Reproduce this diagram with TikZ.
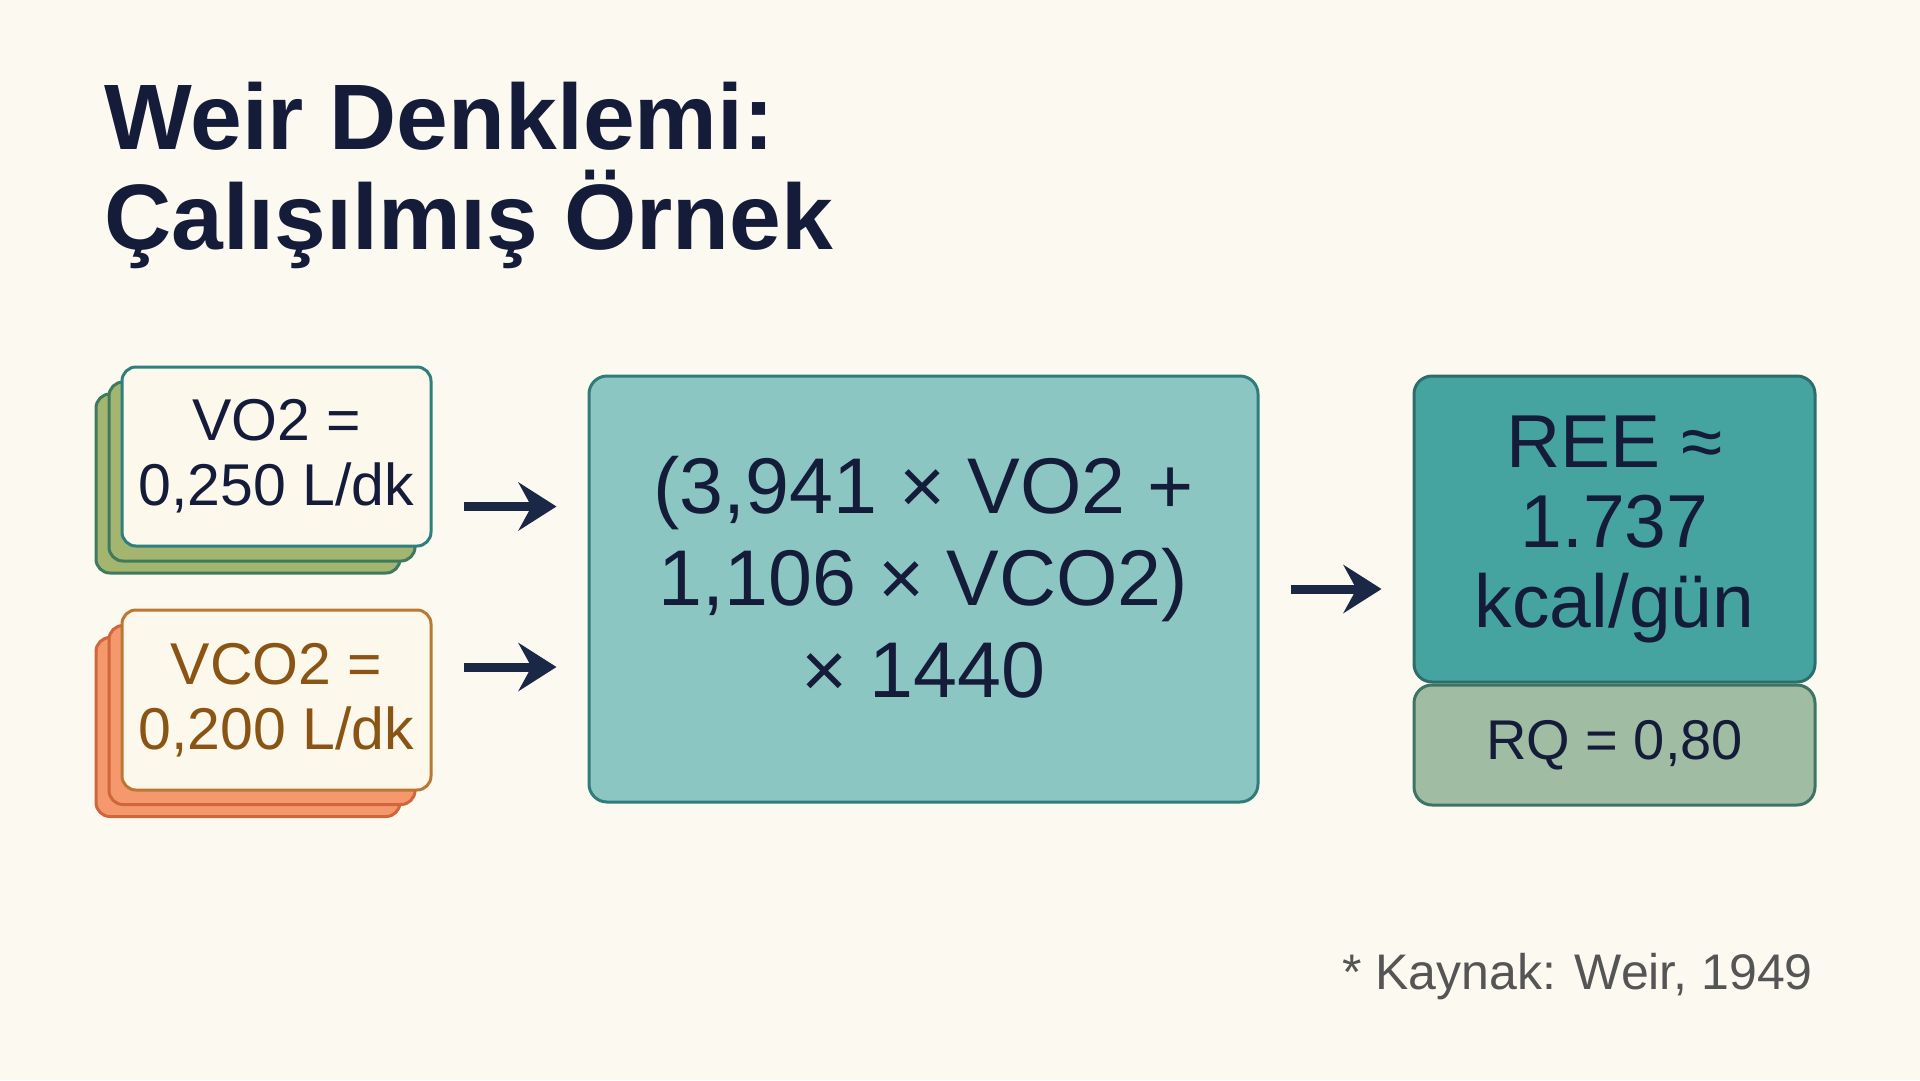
\documentclass[tikz,border=0pt]{standalone}
\usepackage{fontspec}
\setmainfont{Liberation Sans}
\usepackage{tikz}
\usetikzlibrary{positioning}
\usetikzlibrary{arrows.meta}

\definecolor{bgcream}{HTML}{FBF9F0}
\definecolor{navy}{HTML}{141C3A}
\definecolor{arrowblue}{HTML}{1B2845}
\definecolor{cardfill}{HTML}{FCF8EC}
\definecolor{greenfill}{HTML}{A3B56E}
\definecolor{greenline}{HTML}{3F7A5E}
\definecolor{tealline}{HTML}{2E7F7E}
\definecolor{orangefill}{HTML}{F5986E}
\definecolor{orangeline}{HTML}{D0663C}
\definecolor{brownline}{HTML}{BA7832}
\definecolor{browntext}{HTML}{8A5514}
\definecolor{eqfill}{HTML}{8CC6C3}
\definecolor{eqline}{HTML}{2E7D7A}
\definecolor{reefill}{HTML}{45A3A0}
\definecolor{reeline}{HTML}{2D6E6C}
\definecolor{rqfill}{HTML}{A0BCA2}
\definecolor{rqline}{HTML}{3E7466}
\definecolor{notegray}{HTML}{555555}

\begin{document}
\begin{tikzpicture}[x=1pt, y=-1pt,
    card/.style={draw, rounded corners=14pt, line width=3pt, minimum height=179pt,
        inner sep=0pt, align=center, font=\fontsize{59}{65}\selectfont},
    box/.style={draw, rounded corners=18pt, line width=3pt, inner sep=0pt, align=center},
    arr/.style={-{Stealth[length=38pt,width=48pt,inset=13pt]}, line width=9pt, arrowblue,
        shorten <=31pt, shorten >=31pt}]
    \fill[bgcream] (0,0) rectangle (1920,1080);
    \useasboundingbox (0,0) rectangle (1920,1080);

    % title
    \node(t1) [anchor=base west, text=navy, inner sep=0pt,
        font=\fontsize{93}{100}\bfseries\selectfont] at (104,149) {Weir Denklemi:};
    \node(t2) [anchor=base west, text=navy, inner sep=0pt,
        font=\fontsize{93}{100}\bfseries\selectfont] at ([yshift=-100pt]t1.base west) {Çalışılmış Örnek};

    % input cards
    \coordinate(gc) at (276.5,456.5);
    \coordinate(oc) at (276.5,700);
    \foreach \dx/\dy/\w/\i in {-28.5/27/304/2, -14.5/15/306/1} {
        \node(vo2s\i) [card, fill=greenfill, draw=greenline, minimum width=\w pt] at ([shift={(\dx,\dy)}]gc) {};
        \node(vco2s\i) [card, fill=orangefill, draw=orangeline, minimum width=\w pt] at ([shift={(\dx,\dy)}]oc) {};
    }
    \node(vo2) [card, fill=cardfill, draw=tealline, minimum width=309pt, text=navy]
        at (gc) {VO2 =\\0,250 L/dk};
    \node(vco2) [card, fill=cardfill, draw=brownline, minimum width=309pt, minimum height=180pt, text=browntext]
        at (oc) {VCO2 =\\0,200 L/dk};

    % equation
    \node(eq) [box, fill=eqfill, draw=eqline, minimum width=669pt, minimum height=426pt, text=navy,
        text depth=24pt, font=\fontsize{79}{92}\selectfont] at (923.5,589)
        {(3,941 × VO2 +\\1,106 × VCO2)\\× 1440};

    % result
    \node(ree) [box, fill=reefill, draw=reeline, minimum width=401pt, minimum height=306pt, text=navy,
        font=\fontsize{75}{80}\selectfont] at (1614.5,529) {REE ≈\\1.737\\kcal/gün};
    \node(rq) [box, fill=rqfill, draw=rqline, minimum width=401pt, minimum height=120pt, text=navy,
        font=\fontsize{56}{60}\selectfont, below=0pt of ree] {RQ = 0,80};

    \draw[arr] ([yshift=-50pt]vo2.east) -- ([yshift=-50pt]vo2.east -| eq.west);
    \draw[arr] ([yshift=33pt]vco2.east) -- ([yshift=33pt]vco2.east -| eq.west);
    \draw[arr] (eq.east) -- (eq.east -| ree.west);

    % source
    \node(src) [anchor=base east, text=notegray, inner sep=0pt,
        font=\fontsize{50}{56}\selectfont] at (1813,989) {* Kaynak: Weir, 1949};
\end{tikzpicture}
\end{document}
